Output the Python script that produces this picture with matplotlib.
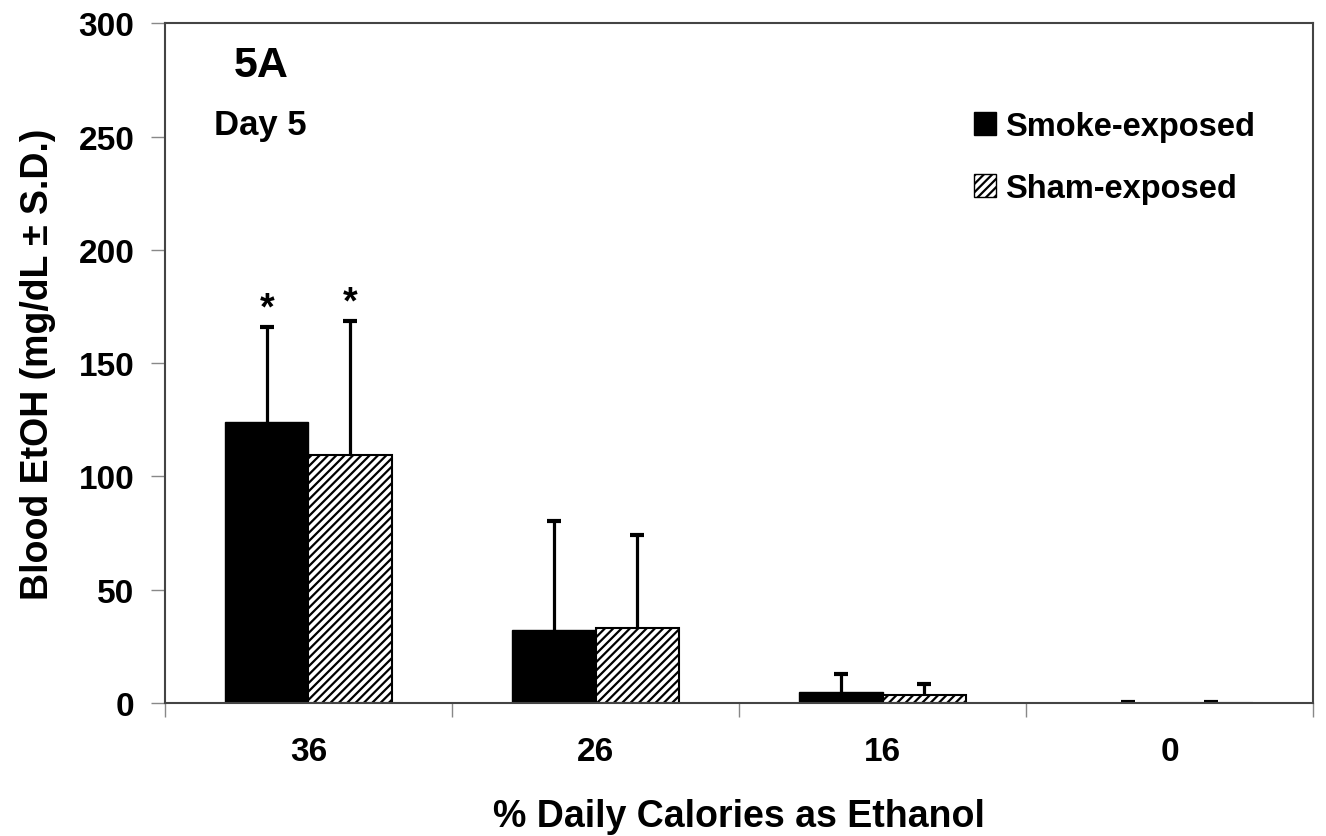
import matplotlib

matplotlib.use("Agg")
import matplotlib.pyplot as plt
import numpy as np
from matplotlib.patches import Patch

plt.rcParams["font.family"] = ["Liberation Sans", "DejaVu Sans"]
plt.rcParams["font.weight"] = "bold"
plt.rcParams["hatch.linewidth"] = 1.6

categories = ["36", "26", "16", "0"]
smoke_mean = [123.8, 32.3, 4.9, 0.0]
smoke_sd = [42.3, 47.9, 7.8, 0.5]
sham_mean = [109.6, 33.2, 3.7, 0.0]
sham_sd = [59.1, 40.8, 4.8, 0.5]
star_on = [True, False, False, False]

x = np.arange(len(categories))
w = 0.29

fig = plt.figure(figsize=(13.26, 8.37), dpi=100)
ax = fig.add_axes([0.1244, 0.159, 0.866, 0.812])

# error bars sit behind the bars so only the upper half shows
err_kw = dict(fmt="none", ecolor="black", elinewidth=2.3, capsize=4.8,
              capthick=3, zorder=1)
ax.errorbar(x - w / 2, smoke_mean, yerr=smoke_sd, **err_kw)
ax.errorbar(x + w / 2, sham_mean, yerr=sham_sd, **err_kw)
ax.bar(x - w / 2, smoke_mean, w, color="black", edgecolor="black", zorder=2)
ax.bar(x + w / 2, sham_mean, w, color="white", edgecolor="black",
       hatch="////", linewidth=1.5, zorder=2)

for i, on in enumerate(star_on):
    if on:
        ax.text(x[i] - w / 2, smoke_mean[i] + smoke_sd[i], "*",
                ha="center", va="bottom", fontsize=27, fontweight="bold")
        ax.text(x[i] + w / 2, sham_mean[i] + sham_sd[i], "*",
                ha="center", va="bottom", fontsize=27, fontweight="bold")

ax.set_xlim(-0.5, 3.5)
ax.set_ylim(0, 300)
ax.set_yticks(np.arange(0, 301, 50))
ax.set_xticks(x)
ax.set_xticklabels(categories)
ax.set_xticks(np.arange(-0.5, 3.6, 1.0), minor=True)
ax.tick_params(axis="x", which="major", length=0, pad=24, labelsize=24)
ax.tick_params(axis="x", which="minor", length=10, color="#888888", width=1)
ax.tick_params(axis="y", length=10, color="#888888", width=1, pad=12,
               labelsize=24)
for s in ax.spines.values():
    s.set_color("#444444")
    s.set_linewidth(1.5)

ax.set_xlabel("% Daily Calories as Ethanol", fontsize=27, fontweight="bold")
ax.set_ylabel("Blood EtOH (mg/dL ± S.D.)", fontsize=27, fontweight="bold")
ax.xaxis.set_label_coords(0.5, -0.14)
ax.yaxis.set_label_coords(-0.095, 0.5)

ax.text(0.084, 0.968, "5A", transform=ax.transAxes, ha="center", va="top",
        fontsize=31, fontweight="bold")
ax.text(0.083, 0.875, "Day 5", transform=ax.transAxes, ha="center", va="top",
        fontsize=25, fontweight="bold")

handles = [Patch(facecolor="black", edgecolor="black", label="Smoke-exposed"),
           Patch(facecolor="white", edgecolor="black", hatch="////",
                 label="Sham-exposed")]
ax.legend(handles=handles, loc="upper left", bbox_to_anchor=(0.69, 0.895),
          frameon=False, fontsize=23.5, handlelength=0.7, handleheight=0.7,
          handletextpad=0.25, labelspacing=0.95, borderpad=0)

fig.savefig("out.png", dpi=100)
